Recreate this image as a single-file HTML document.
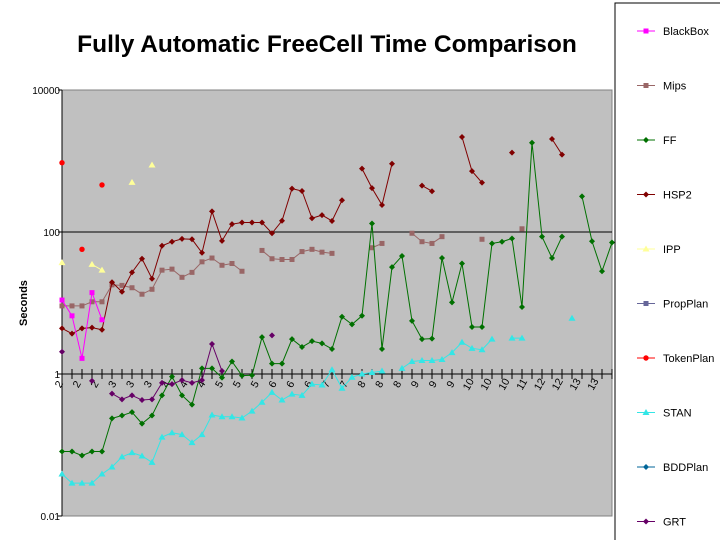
<!DOCTYPE html>
<html><head><meta charset="utf-8"><style>
body{margin:0;background:#fff;width:720px;height:540px;overflow:hidden;font-family:"Liberation Sans",sans-serif}
</style></head><body>
<svg id="c" width="720" height="540" xmlns="http://www.w3.org/2000/svg"></svg>
<script>
const categoryLabels=["2","2","2","3","3","3","4","4","4","5","5","5","6","6","6","7","7","8","8","8","9","9","9","10","10","10","11","12","12","13","13"];
const yTicks=[10000,100,1,0.01];
const yTickLabels=["10000","100","1","0.01"];
const N=56;
const _=null;
const blackbox=[11,6.6,1.66,14,5.8];
const mips=[9.1,9.1,9.1,10.4,10.4,18,17.7,16.4,13.3,15.6,29,30,23,27,38,43,34,36,28,_,55,42,41,41,53,57,52,50,_,_,_,60,69,_,_,96,73,69,86,_,_,_,79,_,_,_,111];
const ff=[0.081,0.081,0.071,0.081,0.081,0.237,0.26,0.29,0.2,0.26,0.5,0.92,0.5,0.37,1.2,1.2,0.89,1.5,0.95,0.96,3.3,1.4,1.4,3.1,2.4,2.9,2.7,2.25,6.4,5.0,6.6,132,2.25,32,46,5.6,3.1,3.15,43,10.2,36,4.6,4.6,69,73,81,8.8,1810,86,43,86,_,318,74,28,71];
const hsp2=[4.4,3.7,4.4,4.5,4.2,19.6,14.4,27,42,22,64,73,80,79,51,195,75,129,136,136,136,96,144,408,378,156,173,143,280,_,780,415,240,915,_,_,450,375,_,_,2180,720,495,_,_,1310,_,_,_,2040,1230];
const ipp=[37,_,_,35,29,_,_,500,_,877];
const tokenplan=[945,_,57,_,460];
const stan=[0.039,0.029,0.029,0.029,0.039,0.049,0.068,0.078,0.07,0.057,0.129,0.149,0.14,0.108,0.14,0.265,0.25,0.25,0.24,0.30,0.40,0.55,0.43,0.52,0.5,0.72,0.7,1.15,0.63,0.9,1.0,1.05,1.1,_,1.2,1.5,1.55,1.55,1.6,2.0,2.8,2.3,2.2,3.1,_,3.2,3.2,_,_,_,_,6.1];
const grt=[2.06,_,_,0.8,_,0.53,0.44,0.5,0.43,0.44,0.75,0.72,0.82,0.75,0.82,2.65,1.1,_,_,_,_,3.5];
const propplan=[];const bddplan=[];

const NS="http://www.w3.org/2000/svg";
const svg=document.getElementById('c');
const X0=62,X1=612,YT=90,YB=516;
function xs(i){return X0+i*10;}
function ys(v){return 374-71*Math.log10(v);}
function el(t,a,p){const e=document.createElementNS(NS,t);for(const k in a)e.setAttribute(k,a[k]);(p||svg).appendChild(e);return e;}

let t=el('text',{x:327,y:52,'font-size':24.5,'font-weight':'bold','text-anchor':'middle',fill:'#000'});


t.textContent='Fully Automatic FreeCell Time Comparison';

let bg=el('rect',{x:X0,y:YT,width:X1-X0,height:YB-YT,fill:'#c0c0c0',stroke:'#808080','stroke-width':1});


el('line',{x1:X0,y1:YT,x2:X0,y2:YB,stroke:'#000'});
el('line',{x1:X0,y1:ys(100),x2:X1,y2:ys(100),stroke:'#000'});
yTicks.forEach((v,k)=>{
  el('line',{x1:X0-4,y1:ys(v),x2:X0,y2:ys(v),stroke:'#000'});
  const tl=el('text',{x:X0-2,y:ys(v)+4,'font-size':10,'text-anchor':'end'});
  
  
  tl.textContent=yTickLabels[k];
});
const yt=el('text',{x:27,y:303,'font-size':11,'font-weight':'bold','text-anchor':'middle',transform:'rotate(-90 27 303)'});


yt.textContent='Seconds';
el('line',{x1:X0,y1:374,x2:X1,y2:374,stroke:'#000'});
for(let i=0;i<N;i++){el('line',{x1:xs(i),y1:369,x2:xs(i),y2:379,stroke:'#000'});}
el('line',{x1:X1,y1:369,x2:X1,y2:379,stroke:'#000'});
categoryLabels.forEach((s,k)=>{
  const x=X0+k*17.8, y=386;
  const tl=el('text',{x:x,y:y,'font-size':10.5,'text-anchor':'middle',transform:`rotate(-60 ${x} ${y})`});
  
  
  tl.textContent=s;
});

function marker(g,type,x,y,col){
  if(type==='sq')el('rect',{x:x-2.5,y:y-2.5,width:5,height:5,fill:col},g);
  else if(type==='di')el('polygon',{points:`${x},${y-3} ${x+3},${y} ${x},${y+3} ${x-3},${y}`,fill:col},g);
  else if(type==='tri')el('polygon',{points:`${x},${y-3.5} ${x+3.5},${y+2.5} ${x-3.5},${y+2.5}`,fill:col},g);
  else el('circle',{cx:x,cy:y,r:2.7,fill:col},g);
}
function series(name,data,col,type){
  const g=el('g',{});
  
  
  let path='',pen=false;
  data.forEach((v,i)=>{
    if(v==null){pen=false;return;}
    path+=(pen?'L':'M')+xs(i)+' '+ys(v)+' ';pen=true;
  });
  if(path)el('path',{d:path,fill:'none',stroke:col,'stroke-width':1},g);
  data.forEach((v,i)=>{if(v!=null)marker(g,type,xs(i),ys(v),col);});
}
series('mips',mips,'#996666','sq');
series('hsp2',hsp2,'#800000','di');
series('ff',ff,'#007000','di');
series('stan',stan,'#33e6e6','tri');
series('grt',grt,'#660066','di');
series('blackbox',blackbox,'#ff00ff','sq');
series('ipp',ipp,'#ffff99','tri');
series('tokenplan',tokenplan,'#ff0000','ci');
series('propplan',propplan,'#666699','sq');
series('bddplan',bddplan,'#006699','di');

const lg=el('g',{});


el('rect',{x:615,y:3,width:110,height:545,fill:'#fff',stroke:'#000'},lg);
const legNames=['BlackBox','Mips','FF','HSP2','IPP','PropPlan','TokenPlan','STAN','BDDPlan','GRT'];
const legCols=['#ff00ff','#996666','#007000','#800000','#ffff99','#666699','#ff0000','#33e6e6','#006699','#660066'];
const legTypes=['sq','sq','di','di','tri','sq','ci','tri','di','di'];
legNames.forEach((n,k)=>{
  const y=31+k*54.5;
  const e=el('g',{},lg);
  
  
  el('line',{x1:637,y1:y,x2:655,y2:y,stroke:legCols[k]},e);
  marker(e,legTypes[k],646,y,legCols[k]);
  const tx=el('text',{x:663,y:y+4,'font-size':11},e);
  tx.textContent=n;
});
</script>
</body></html>
